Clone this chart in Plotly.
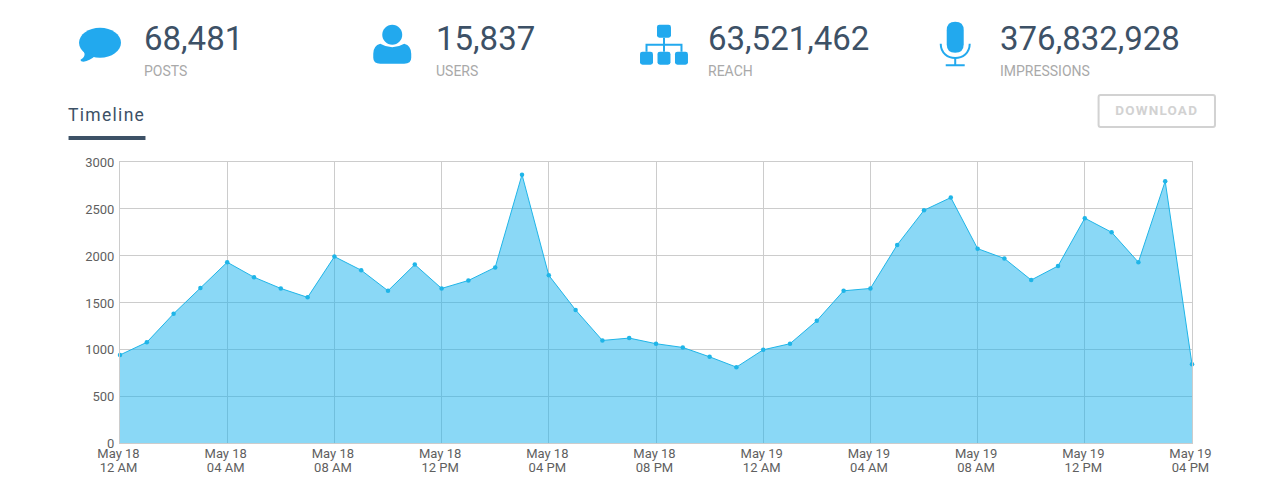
import plotly.graph_objects as go

hours = list(range(41))
times = [f"2023-05-{18 + h // 24:02d} {h % 24:02d}:00" for h in hours]
values = [940, 1075, 1380, 1655, 1930, 1770, 1650, 1555, 1990, 1845, 1625, 1905, 1650, 1735, 1875,
          2865, 1790, 1420, 1095, 1120, 1060, 1020, 920, 810, 995, 1060, 1305, 1625, 1650, 2115,
          2485, 2620, 2075, 1970, 1740, 1890, 2400, 2250, 1930, 2795, 840]
tick_vals = ["2023-05-18 00:00", "2023-05-18 04:00", "2023-05-18 08:00", "2023-05-18 12:00",
             "2023-05-18 16:00", "2023-05-18 20:00", "2023-05-19 00:00", "2023-05-19 04:00",
             "2023-05-19 08:00", "2023-05-19 12:00", "2023-05-19 16:00"]
tick_text = ["May 18<br>12 AM", "May 18<br>04 AM", "May 18<br>08 AM", "May 18<br>12 PM",
             "May 18<br>04 PM", "May 18<br>08 PM", "May 19<br>12 AM", "May 19<br>04 AM",
             "May 19<br>08 AM", "May 19<br>12 PM", "May 19<br>04 PM"]
stat_values = ["68,481", "15,837", "63,521,462", "376,832,928"]
stat_labels = ["POSTS", "USERS", "REACH", "IMPRESSIONS"]

W, H = 1283, 492
L, R, T, B = 119.5, 1192.5, 161.5, 443.0
DARK, BLUE, GREY = "#3d5166", "#22a9ee", "#a9a9a9"


def X(x):
    return (x - L) / (R - L)


def Y(y):
    return (B - y) / (B - T)


def path(*cmds):
    out = []
    for c in cmds:
        if isinstance(c, str):
            out.append(c)
        else:
            out.append(f"{X(c[0]):.5f},{Y(c[1]):.5f}")
    return " ".join(out)


def icon(d, fill=BLUE, line=None, lw=0):
    return dict(type="path", xref="paper", yref="paper", path=d, fillcolor=fill, layer="above",
                line=dict(color=line or "rgba(0,0,0,0)", width=lw))


def rrect(x0, y0, x1, y1, r):
    return path("M", (x0 + r, y0), "L", (x1 - r, y0), "Q", (x1, y0), (x1, y0 + r), "L", (x1, y1 - r),
                "Q", (x1, y1), (x1 - r, y1), "L", (x0 + r, y1), "Q", (x0, y1), (x0, y1 - r), "L", (x0, y0 + r),
                "Q", (x0, y0), (x0 + r, y0), "Z")


def ell(cx, cy, rx, ry):
    k = 0.5523
    return path("M", (cx - rx, cy), "C", (cx - rx, cy - k * ry), (cx - k * rx, cy - ry), (cx, cy - ry),
                "C", (cx + k * rx, cy - ry), (cx + rx, cy - k * ry), (cx + rx, cy),
                "C", (cx + rx, cy + k * ry), (cx + k * rx, cy + ry), (cx, cy + ry),
                "C", (cx - k * rx, cy + ry), (cx - rx, cy + k * ry), (cx - rx, cy), "Z")


shapes = [
    # bubble
    icon(ell(99.5, 42, 21, 15)),
    icon(path("M", (83, 50), "Q", (86, 56), (80, 59), "Q", (80, 61), (83, 61), "Q", (89, 60), (95, 55), "Z")),
    # person
    icon(ell(392, 34, 10, 10)),
    icon(path("M", (380, 43), "Q", (392, 50), (404, 43), "Q", (411, 45), (411, 53), "L", (411, 57),
              "Q", (411, 63), (404, 63), "L", (380, 63), "Q", (373, 63), (373, 57), "L", (373, 53),
              "Q", (373, 45), (380, 43), "Z")),
    # org chart
    icon(rrect(657, 24, 671, 37, 2.5)),
    icon(rrect(640, 51, 653, 64, 2.5)),
    icon(rrect(657.5, 51, 670.5, 64, 2.5)),
    icon(rrect(675, 51, 688, 64, 2.5)),
    icon(path("M", (646.5, 51), "L", (646.5, 44), "L", (681.5, 44), "L", (681.5, 51)), fill="rgba(0,0,0,0)", line=BLUE, lw=2),
    icon(path("M", (664, 37), "L", (664, 51)), fill="rgba(0,0,0,0)", line=BLUE, lw=2),
    # microphone
    icon(rrect(947, 21, 964, 52, 8.5)),
    icon(path("M", (941, 43), "C", (941, 62), (970, 62), (970, 43)), fill="rgba(0,0,0,0)", line=BLUE, lw=2),
    icon(path("M", (955.5, 57), "L", (955.5, 64), "M", (946, 64.5), "L", (965, 64.5)), fill="rgba(0,0,0,0)", line=BLUE, lw=2),
    # timeline underline
    dict(type="rect", xref="paper", yref="paper", x0=X(68), x1=X(145), y0=Y(139.5), y1=Y(135.5),
         fillcolor=DARK, line=dict(width=0)),
    # download button
    icon(rrect(1099, 94.5, 1215.5, 126.5, 2), fill="rgba(0,0,0,0)", line="#d2d2d2", lw=2),
]


def text(x, y, s, size, color, anchor="left", family="Roboto", weight=None):
    return dict(xref="paper", yref="paper", x=X(x), y=Y(y), text=s, showarrow=False, xanchor=anchor,
                yanchor="middle", align=anchor,
                font=dict(family=family, size=size, color=color, weight=weight), borderpad=0, borderwidth=0)


stat_x = [143.5, 435.5, 708, 1000.5]
annotations = []
for sx, v, lab in zip(stat_x, stat_values, stat_labels):
    annotations.append(text(sx, 37.5, v, 33, DARK))
    annotations.append(text(sx, 70.5, lab, 14, GREY))
annotations.append(text(67.5, 114.5, "Timeline", 17.5, DARK))
annotations.append(text(1157.5, 109.5, "DOWNLOAD", 13.5, "#d2d2d2", anchor="center", weight=700))

TICK_FONT = dict(family="Roboto", size=13, color="#5f5f5f")

fig = go.Figure(go.Scatter(
    x=times, y=values, mode="lines+markers", fill="tozeroy",
    fillcolor="rgba(22,178,238,0.5)", line=dict(color="#1fb5e8", width=1),
    marker=dict(color="#1fb5e8", size=4.5), cliponaxis=False, hoverinfo="x+y",
))
fig.update_layout(
    width=W, height=H, autosize=False, showlegend=False,
    margin=dict(l=L, r=W - R, t=T, b=H - B, pad=0),
    paper_bgcolor="white", plot_bgcolor="white",
    font=dict(family="Roboto", size=13, color="#5f5f5f"),
    shapes=shapes, annotations=annotations,
    xaxis=dict(type="date", range=[times[0], times[-1]], tickmode="array", tickvals=tick_vals,
               ticktext=tick_text, showgrid=True, gridcolor="#cccccc", gridwidth=1, zeroline=False,
               showline=True, linecolor="#cccccc", mirror=True, ticks="", tickangle=0,
               tickfont=TICK_FONT),
    yaxis=dict(range=[0, 3000], tickvals=[0, 500, 1000, 1500, 2000, 2500, 3000], showgrid=True,
               gridcolor="#cccccc", gridwidth=1, zeroline=False, showline=True, linecolor="#cccccc",
               mirror=True, ticks="", ticklabelstandoff=2, tickfont=TICK_FONT),
)

post = """
document.documentElement.style.overflow='hidden';
document.body.style.margin='0';
document.querySelectorAll('.annotation-text').forEach(function(t){
  if(t.textContent==='Timeline'){t.style.letterSpacing='1.3px';}
  if(t.textContent==='DOWNLOAD'){t.style.letterSpacing='1.2px';}
});
document.querySelectorAll('.xtick text tspan.line').forEach(function(s){
  if(parseFloat(s.getAttribute('dy'))>0){s.setAttribute('dy','1.08em');}
});
document.querySelectorAll('.xtick text').forEach(function(t){
  t.setAttribute('transform',(t.getAttribute('transform')||'')+' translate(-1.5,-1.5)');
});
document.querySelectorAll('.ytick text').forEach(function(t){
  t.setAttribute('transform',(t.getAttribute('transform')||'')+' translate(0,0.5)');
});
"""
fig.write_html("out.html", post_script=post, config={"displayModeBar": False})
